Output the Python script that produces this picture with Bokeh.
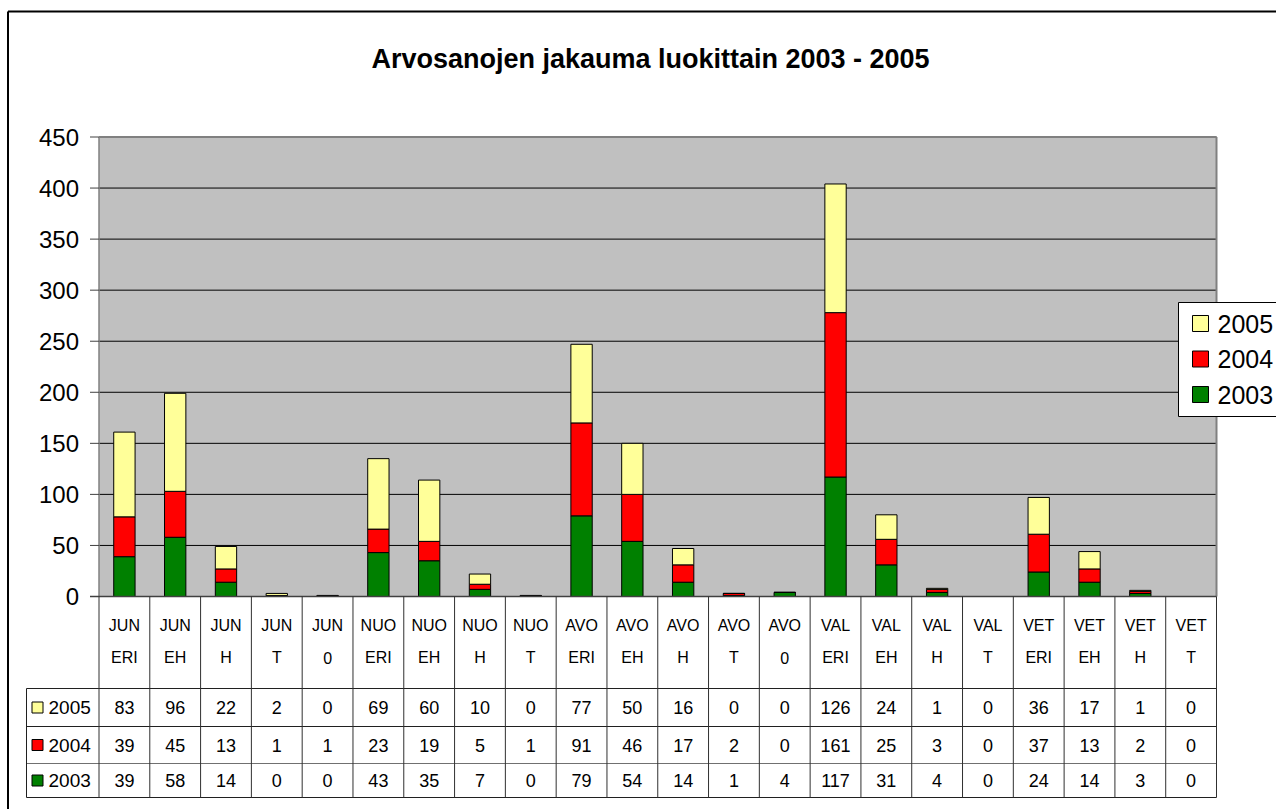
from bokeh.plotting import figure
from bokeh.models import Range1d, ColumnDataSource
from bokeh.core.properties import value
from bokeh.embed import file_html
from bokeh.resources import INLINE

# ---------------- data ----------------
title = "Arvosanojen jakauma luokittain 2003 - 2005"
categories = ["JUN ERI", "JUN EH", "JUN H", "JUN T", "JUN 0",
              "NUO ERI", "NUO EH", "NUO H", "NUO T",
              "AVO ERI", "AVO EH", "AVO H", "AVO T", "AVO 0",
              "VAL ERI", "VAL EH", "VAL H", "VAL T",
              "VET ERI", "VET EH", "VET H", "VET T"]
years = ["2003", "2004", "2005"]
v2003 = [39, 58, 14, 0, 0, 43, 35, 7, 0, 79, 54, 14, 1, 4, 117, 31, 4, 0, 24, 14, 3, 0]
v2004 = [39, 45, 13, 1, 1, 23, 19, 5, 1, 91, 46, 17, 2, 0, 161, 25, 3, 0, 37, 13, 2, 0]
v2005 = [83, 96, 22, 2, 0, 69, 60, 10, 0, 77, 50, 16, 0, 0, 126, 24, 1, 0, 36, 17, 1, 0]
colors = ["#008000", "#FF0000", "#FFFF99"]
y_ticks = [0, 50, 100, 150, 200, 250, 300, 350, 400, 450]

# ---------------- layout (canvas pixels) ----------------
W, H = 1276, 809
PX0 = 98.5          # canvas x of the plot area's left edge
PXR = 1216.0        # canvas x of the plot area's right edge
n = len(categories)
CW = (PXR - PX0) / n
Y0 = 596.0          # canvas y of value 0
YTOP = 136.5        # canvas y of value 450
KY = (Y0 - YTOP) / y_ticks[-1]
FONT = "Liberation Sans"

p = figure(width=W, height=H, x_range=Range1d(0, W), y_range=Range1d(H, 0),
           x_axis_type=None, y_axis_type=None, output_backend="svg",
           toolbar_location=None, min_border=0, outline_line_color=None)
p.background_fill_color = "white"
p.border_fill_color = "white"
p.extra_x_ranges = {"cx": Range1d(-PX0 / CW, (W - PX0) / CW)}
p.extra_y_ranges = {"vy": Range1d(-(H - Y0) / KY, Y0 / KY)}

# outer chart border (top & left visible)
p.segment(x0=[7.5, 7.5], y0=[11, 11], x1=[W, 7.5], y1=[11, H], line_color="black", line_width=2)

# title
p.text(x=[650], y=[58], text=[title], text_align="center", text_baseline="middle",
       text_font=value(FONT), text_font_style="bold", text_font_size="27px", text_color="black")

# plot area
p.quad(left=0, right=n, bottom=0, top=y_ticks[-1], x_range_name="cx", y_range_name="vy",
       fill_color="#C0C0C0", line_color=None)
p.segment(x0=0, x1=n, y0=y_ticks[1:], y1=y_ticks[1:], x_range_name="cx", y_range_name="vy",
          line_color="black", line_width=1)
# plot area border top/right (grey)
p.segment(x0=[0, n], x1=[n, n], y0=[y_ticks[-1], y_ticks[-1]], y1=[y_ticks[-1], 0],
          x_range_name="cx", y_range_name="vy", line_color="#808080", line_width=2)

# y axis
p.segment(x0=[PX0], x1=[PX0], y0=[0], y1=[y_ticks[-1]], y_range_name="vy",
          line_color="#808080", line_width=1.5)
p.segment(x0=PX0 - 9, x1=PX0, y0=y_ticks, y1=y_ticks, y_range_name="vy",
          line_color="#404040", line_width=1)
p.text(x=78.5, y=y_ticks, text=[str(t) for t in y_ticks], y_range_name="vy",
       text_align="right", text_baseline="middle", text_font=value(FONT),
       text_font_size="24px", text_color="black")

# bars
src = ColumnDataSource(dict(x=[i + 0.5 for i in range(n)], y2003=v2003, y2004=v2004, y2005=v2005))
p.vbar_stack(["y2003", "y2004", "y2005"], x="x", width=0.42, source=src,
             fill_color=colors, line_color="black", line_width=1,
             x_range_name="cx", y_range_name="vy")

# x axis line at zero
p.segment(x0=[PX0 - 9], x1=[PXR], y0=[Y0], y1=[Y0], line_color="#404040", line_width=1.5)

# ---------------- data table ----------------
ROW_LINES = [688, 726, 763, 797]
ROW_LINE_COLORS = ["#202020", "#202020", "#707070", "#202020"]
ROW_MID = [707, 744.5, 780]
tops = [c.split(" ")[0] for c in categories]
bots = [c.split(" ")[1] for c in categories]
centers = [i + 0.5 for i in range(n)]
p.text(x=centers, y=625, text=tops, x_range_name="cx", text_align="center", text_baseline="middle",
       text_font=value(FONT), text_font_size="16px", text_color="black")
p.text(x=centers, y=657, text=bots, x_range_name="cx", text_align="center", text_baseline="middle",
       text_font=value(FONT), text_font_size="16px", text_color="black")

# horizontal and vertical table lines
p.segment(x0=26, x1=PXR, y0=ROW_LINES, y1=ROW_LINES, line_color=ROW_LINE_COLORS, line_width=1)
p.segment(x0=list(range(n + 1)), x1=list(range(n + 1)), y0=Y0, y1=ROW_LINES[-1],
          x_range_name="cx", line_color="#303030", line_width=1)
p.segment(x0=[26], x1=[26], y0=[ROW_LINES[0]], y1=[ROW_LINES[-1]], line_color="#202020", line_width=1)

rows = [("2005", v2005, colors[2]), ("2004", v2004, colors[1]), ("2003", v2003, colors[0])]
for (yr, vals, col), ym in zip(rows, ROW_MID):
    p.text(x=centers, y=ym, text=[str(v) for v in vals], x_range_name="cx",
           text_align="center", text_baseline="middle", text_font=value(FONT),
           text_font_size="18px", text_color="black")
    p.scatter(x=[37], y=[ym], marker="square", size=11, fill_color=col, line_color="black", line_width=1)
    p.text(x=[48], y=[ym], text=[yr], text_align="left", text_baseline="middle",
           text_font=value(FONT), text_font_size="19px", text_color="black")

# ---------------- legend ----------------
p.quad(left=[1178], right=[W + 10], top=[302], bottom=[416], fill_color="white",
       line_color="black", line_width=1)
LEG_Y = [323, 358.5, 394]
for (yr, vals, col), ym in zip(rows, LEG_Y):
    p.scatter(x=[1200], y=[ym], marker="square", size=16, fill_color=col, line_color="black", line_width=1)
    p.text(x=[1217], y=[ym], text=[yr], text_align="left", text_baseline="middle",
           text_font=value(FONT), text_font_size="25px", text_color="black")

open("out.html", "w").write(file_html(p, INLINE))
